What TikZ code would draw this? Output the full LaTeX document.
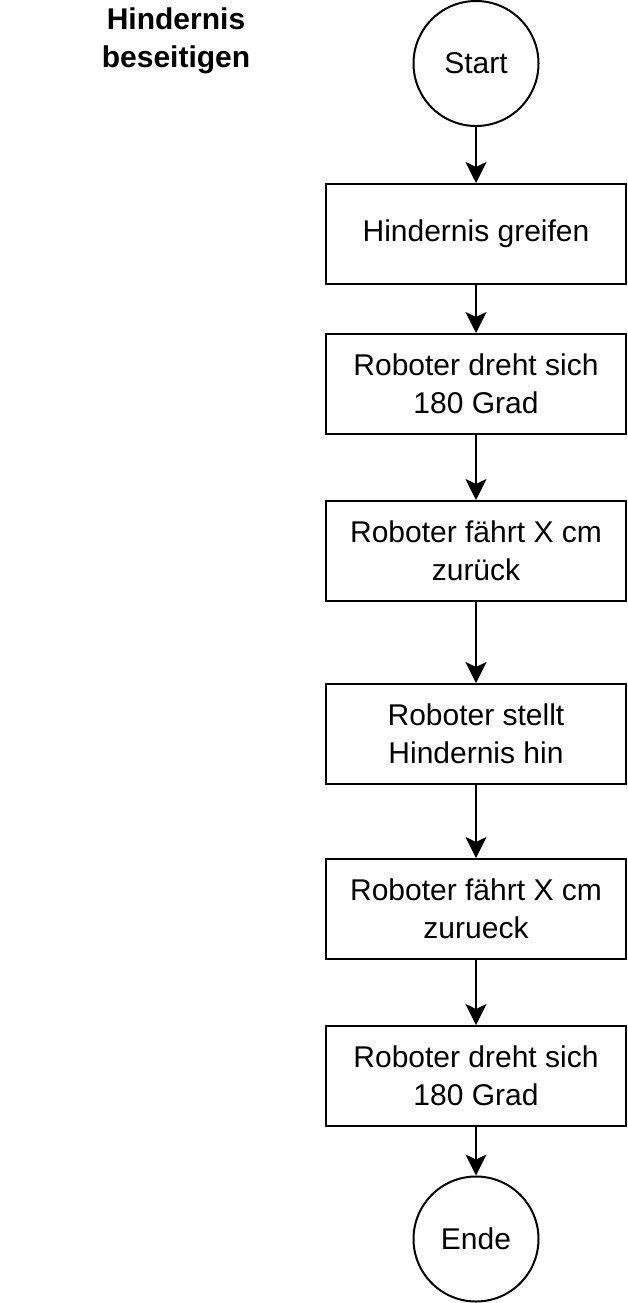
\documentclass[tikz,border=0pt]{standalone}
\usepackage{fontspec}
\setmainfont{Liberation Sans}
\usetikzlibrary{arrows.meta}
\begin{document}
\begin{tikzpicture}[x=1pt,y=-1pt,
  every node/.style={font=\fontsize{30}{38}\selectfont, align=center, inner sep=0pt},
  procbox/.style={draw, line width=2pt, minimum width=300pt, minimum height=100pt},
  term/.style={draw, circle, line width=2pt, minimum size=125pt},
  conn/.style={line width=2pt, -{Stealth[length=21pt, width=21pt, inset=5pt]}}]
\useasboundingbox (0,0) rectangle (628,1303);
\node[font=\bfseries\fontsize{30}{38}\selectfont] (title) at (176,41) {Hindernis\\beseitigen};
\node[term] (start) at (476,63.5) {Start};
\node[procbox] (b1) at (476,234) {Hindernis greifen};
\node[procbox] (b2) at (476,384) {Roboter dreht sich\\180 Grad};
\node[procbox] (b3) at (476,551) {Roboter fährt X cm\\zurück};
\node[procbox] (b4) at (476,734) {Roboter stellt\\Hindernis hin};
\node[procbox] (b5) at (476,909) {Roboter fährt X cm\\zurueck};
\node[procbox] (b6) at (476,1076) {Roboter dreht sich\\180 Grad};
\node[term] (ende) at (476,1239) {Ende};
\draw[conn] (start) -- (b1);
\draw[conn] (b1) -- (b2);
\draw[conn] (b2) -- (b3);
\draw[conn] (b3) -- (b4);
\draw[conn] (b4) -- (b5);
\draw[conn] (b5) -- (b6);
\draw[conn] (b6) -- (ende);
\end{tikzpicture}
\end{document}
